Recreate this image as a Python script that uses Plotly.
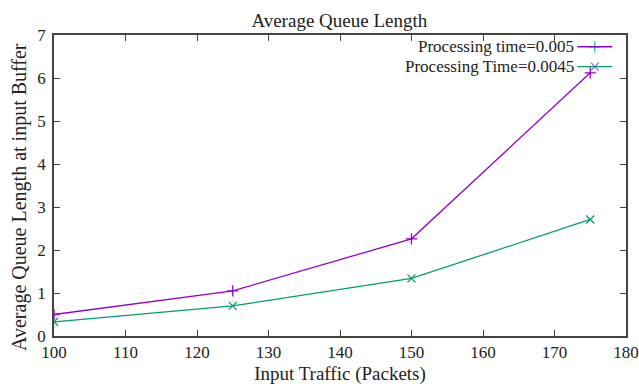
import plotly.graph_objects as go

traffic = [100, 125, 150, 175]
q_005 = [0.50, 1.05, 2.26, 6.12]
q_0045 = [0.33, 0.70, 1.34, 2.71]
series_names = ["Processing time=0.005", "Processing Time=0.0045"]
colors = ["#9400D3", "#009E73"]
symbols = ["cross-thin-open", "x-thin-open"]

FONT = "Liberation Serif"
TXT = "#222"
fig = go.Figure()
for ys, name, c, s in zip([q_005, q_0045], series_names, colors, symbols):
    fig.add_trace(go.Scatter(x=traffic, y=ys, mode="lines+markers", name=name,
                             line=dict(color=c, width=1.3),
                             marker=dict(symbol=s, size=8, line=dict(color=c, width=1.3)),
                             showlegend=False))

# manual gnuplot-style legend (text left of sample)
leg_y = [0.961, 0.895]
for name, c, s, ly in zip(series_names, colors, symbols, leg_y):
    fig.add_annotation(x=0.912, y=ly, xref="paper", yref="paper", text=name,
                       showarrow=False, xanchor="right", yanchor="middle",
                       font=dict(family=FONT, size=17, color=TXT))
    fig.add_shape(type="line", xref="paper", yref="paper", x0=0.915, x1=0.976,
                  y0=ly, y1=ly, line=dict(color=c, width=1.3))
    fig.add_trace(go.Scatter(x=[0.9455], y=[ly], xaxis="x2", yaxis="y2", mode="markers",
                             marker=dict(symbol=s, size=8, line=dict(color=c, width=1.3)),
                             showlegend=False, hoverinfo="skip"))

# y-axis title (placed as in the reference, slightly below centre)
fig.add_annotation(x=-0.0594, y=0.462, xref="paper", yref="paper",
                   text="Average Queue Length at input Buffer", textangle=-90,
                   showarrow=False, xanchor="center", yanchor="middle",
                   font=dict(family=FONT, size=20, color=TXT))

axis_common = dict(showline=True, linecolor="#444", linewidth=1.5, mirror="ticks",
                   ticks="inside", ticklen=6, tickcolor="#444", tickwidth=1.2,
                   showgrid=False, zeroline=False, automargin=False,
                   tickfont=dict(family=FONT, size=17, color=TXT))
fig.update_layout(
    width=639, height=387,
    margin=dict(l=54, r=13, t=35, b=51, autoexpand=False),
    paper_bgcolor="white", plot_bgcolor="white",
    title=dict(text="Average Queue Length", x=0.531, xanchor="center", y=0.948, yanchor="middle",
               font=dict(family=FONT, size=19, color=TXT)),
    xaxis=dict(range=[100, 180], dtick=10,
               title=dict(text="Input Traffic (Packets)", standoff=6,
                          font=dict(family=FONT, size=19, color=TXT)),
               **axis_common),
    yaxis=dict(range=[0, 7], dtick=1, ticklabelstandoff=3, **axis_common),
    xaxis2=dict(range=[0, 1], overlaying="x", visible=False),
    yaxis2=dict(range=[0, 1], overlaying="y", visible=False),
)
fig.write_html("out.html")
